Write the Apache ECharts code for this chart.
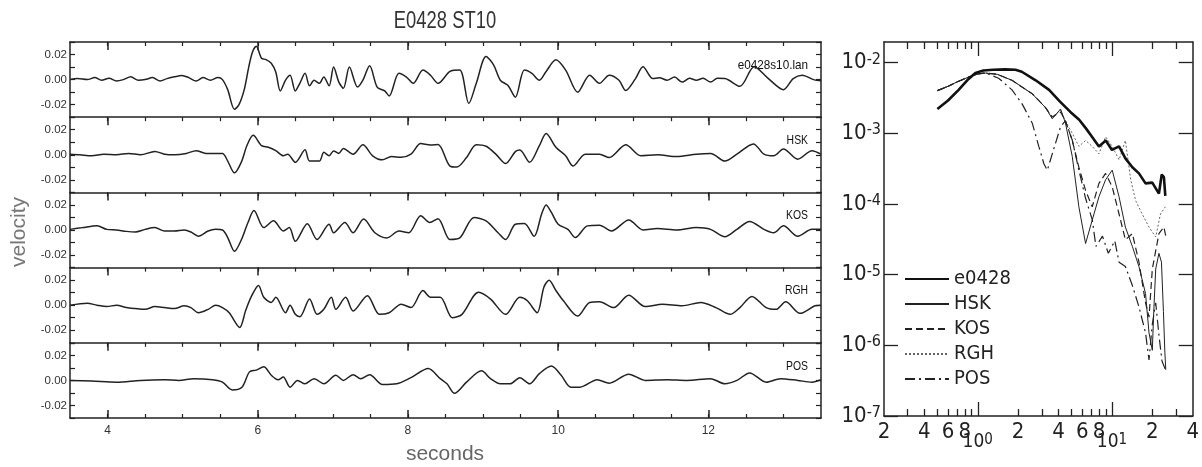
<!DOCTYPE html>
<html><head><meta charset="utf-8">
<script src="https://cdn.jsdelivr.net/npm/echarts@6/dist/echarts.min.js"></script>
<style>html,body{margin:0;padding:0;background:#fff}#c{width:1202px;height:467px}</style>
</head><body><div id="c"></div>
<script>
// ---------------- data: velocity traces [seconds, velocity] ----------------
const traceNames = ['e0428s10.lan', 'HSK', 'KOS', 'RGH', 'POS'];
const traceE0428 = [[3.50,0.0000],[3.60,0.0008],[3.73,0.0000],[3.83,0.0016],[3.92,-0.0005],[4.02,0.0011],[4.12,-0.0011],[4.21,0.0000],[4.31,0.0022],[4.41,-0.0005],[4.50,0.0000],[4.60,0.0016],[4.70,-0.0011],[4.79,0.0008],[4.89,0.0022],[4.99,0.0033],[5.08,0.0016],[5.18,-0.0011],[5.27,0.0016],[5.37,-0.0005],[5.47,0.0016],[5.53,0.0000],[5.60,-0.008],[5.69,-0.0237],[5.75,-0.020],[5.82,-0.008],[5.88,0.010],[5.93,0.022],[5.98,0.0267],[6.05,0.017],[6.11,0.016],[6.18,0.013],[6.24,0.006],[6.30,-0.009],[6.37,-0.0005],[6.43,0.0035],[6.50,-0.009],[6.56,-0.003],[6.63,0.005],[6.69,-0.005],[6.75,-0.0005],[6.82,-0.003],[6.88,0.002],[6.95,-0.005],[7.01,0.010],[7.08,-0.002],[7.14,-0.007],[7.22,0.010],[7.33,-0.006],[7.40,-0.0005],[7.49,0.011],[7.59,-0.006],[7.69,-0.009],[7.75,-0.013],[7.88,0.005],[7.98,0.002],[8.07,-0.003],[8.20,0.0076],[8.30,0.0035],[8.40,-0.003],[8.56,0.0065],[8.69,0.0076],[8.81,-0.019],[8.91,-0.003],[9.04,0.0185],[9.14,0.0117],[9.23,-0.0005],[9.33,-0.0046],[9.43,-0.014],[9.55,0.0076],[9.65,0.005],[9.75,-0.0005],[9.84,0.0065],[9.97,0.0158],[10.10,0.0076],[10.26,-0.010],[10.42,0.0035],[10.55,-0.003],[10.68,0.0035],[10.81,-0.0005],[10.90,-0.0087],[11.03,0.0008],[11.13,0.0103],[11.26,0.0008],[11.35,0.0015],[11.45,-0.0005],[11.55,0.002],[11.65,-0.002],[11.75,0.001],[11.84,-0.0005],[11.93,0.001],[12.03,-0.002],[12.12,0.001],[12.22,0.0008],[12.42,-0.0054],[12.61,0.0103],[12.80,0.0008],[13.00,-0.008],[13.13,0.0008],[13.25,0.0035],[13.40,0.000],[13.50,-0.001]];
const traceHSK = [[3.50,0.0005],[3.63,0.0000],[3.79,-0.0008],[3.95,0.0005],[4.12,0.0000],[4.28,0.0011],[4.44,0.0000],[4.63,0.0027],[4.76,0.0005],[4.89,0.0000],[5.05,0.0011],[5.18,0.0033],[5.31,0.0011],[5.40,0.0011],[5.53,0.0011],[5.60,-0.005],[5.69,-0.0144],[5.78,-0.006],[5.86,0.008],[5.94,0.0155],[6.05,0.0073],[6.14,0.006],[6.24,0.0033],[6.34,-0.0008],[6.40,0.0005],[6.50,-0.006],[6.63,0.004],[6.69,-0.005],[6.82,-0.005],[6.88,0.002],[6.95,-0.0008],[7.01,0.003],[7.08,0.0011],[7.14,0.005],[7.27,0.0005],[7.40,0.008],[7.53,-0.0008],[7.66,-0.004],[7.78,-0.0014],[7.91,-0.002],[8.04,0.0005],[8.17,0.009],[8.30,0.0079],[8.40,0.0082],[8.56,-0.009],[8.65,-0.0098],[8.78,-0.0022],[8.91,0.008],[9.04,0.0068],[9.17,0.0005],[9.30,-0.007],[9.43,0.0025],[9.49,0.0038],[9.62,-0.006],[9.75,0.0073],[9.84,0.0169],[9.97,0.006],[10.10,-0.0008],[10.20,-0.009],[10.36,0.0005],[10.55,0.0005],[10.68,-0.0022],[10.90,0.008],[11.10,-0.0008],[11.32,0.000],[11.58,-0.0014],[11.84,0.0005],[12.03,0.0011],[12.22,-0.005],[12.38,0.0005],[12.60,0.0087],[12.74,0.0005],[12.87,-0.0008],[13.00,0.0046],[13.19,-0.0035],[13.38,0.0033],[13.50,0.0005]];
const traceKOS = [[3.50,0.0005],[3.67,0.0019],[3.86,0.0033],[3.99,0.0005],[4.12,0.0000],[4.25,-0.0011],[4.37,-0.0016],[4.50,0.0005],[4.63,0.0019],[4.76,-0.0008],[4.89,-0.0008],[5.02,0.0000],[5.11,-0.0016],[5.21,-0.0049],[5.34,-0.0008],[5.44,0.0005],[5.53,0.0000],[5.60,-0.006],[5.69,-0.017],[5.78,-0.008],[5.87,0.006],[5.95,0.0155],[6.08,0.0019],[6.21,0.0073],[6.34,-0.0008],[6.42,0.0019],[6.50,-0.009],[6.66,0.005],[6.79,-0.0076],[6.95,0.0046],[7.01,-0.0022],[7.16,0.006],[7.27,-0.0022],[7.41,0.0087],[7.56,-0.0022],[7.72,-0.0063],[7.88,-0.0008],[8.01,-0.0022],[8.17,0.0114],[8.29,0.006],[8.40,0.009],[8.56,-0.0076],[8.69,-0.0063],[8.88,0.010],[9.04,0.0073],[9.20,-0.0022],[9.30,-0.0076],[9.43,0.0046],[9.55,0.0052],[9.68,-0.005],[9.78,0.0128],[9.84,0.020],[9.91,0.014],[10.00,0.0046],[10.13,0.0005],[10.23,-0.006],[10.39,0.0033],[10.55,0.0038],[10.71,-0.0008],[10.94,0.008],[11.13,0.000],[11.32,0.0011],[11.58,0.000],[11.84,0.0019],[12.03,0.0005],[12.22,-0.0054],[12.38,0.0005],[12.55,0.0068],[12.74,0.0005],[12.87,-0.0022],[13.00,0.0033],[13.19,-0.005],[13.38,0.0005],[13.50,0.0005]];
const traceRGH = [[3.50,0.0000],[3.73,0.0016],[3.86,0.0000],[3.99,-0.0011],[4.12,0.0000],[4.25,-0.0019],[4.37,-0.0027],[4.50,-0.0033],[4.63,-0.0011],[4.76,-0.0019],[4.89,-0.0027],[5.02,-0.0005],[5.11,-0.0019],[5.21,-0.006],[5.34,-0.0033],[5.44,0.0000],[5.53,-0.0019],[5.62,-0.006],[5.76,-0.0177],[5.84,-0.004],[5.92,0.0076],[6.01,0.0158],[6.08,0.0063],[6.18,0.0022],[6.24,0.0063],[6.37,-0.006],[6.43,0.000],[6.50,-0.0073],[6.56,-0.0092],[6.69,0.005],[6.79,-0.0073],[6.88,-0.0033],[6.98,0.0063],[7.04,-0.0033],[7.17,0.0063],[7.27,-0.0046],[7.46,0.0076],[7.62,-0.0073],[7.75,-0.006],[7.91,0.0008],[8.04,-0.0019],[8.20,0.0117],[8.30,0.0063],[8.43,0.0063],[8.59,-0.010],[8.72,-0.0073],[8.94,0.0103],[9.10,0.0049],[9.30,-0.0073],[9.49,0.0063],[9.59,0.0035],[9.72,-0.006],[9.81,0.0144],[9.88,0.0199],[9.97,0.0117],[10.07,0.0035],[10.26,-0.0087],[10.42,0.0022],[10.55,0.0027],[10.74,-0.0019],[10.94,0.008],[11.16,-0.0011],[11.39,0.0008],[11.65,-0.0005],[11.90,0.0022],[12.10,-0.0019],[12.29,-0.0073],[12.42,-0.0019],[12.58,0.007],[12.77,-0.0019],[12.90,-0.0033],[13.03,0.0027],[13.22,-0.0065],[13.42,-0.0005],[13.50,0.0000]];
const tracePOS = [[3.50,0.0000],[3.79,-0.0005],[4.12,-0.0014],[4.44,0.0000],[4.76,0.0005],[4.95,0.0000],[5.15,0.0014],[5.40,0.0005],[5.53,-0.0014],[5.66,-0.0076],[5.79,-0.0054],[5.89,0.0068],[5.98,0.0082],[6.08,0.0109],[6.18,0.0041],[6.27,0.0005],[6.34,0.0027],[6.43,-0.0054],[6.53,0.000],[6.63,-0.0027],[6.75,0.0014],[6.88,-0.0027],[7.04,0.0041],[7.14,0.000],[7.27,0.0046],[7.37,0.0014],[7.49,0.0046],[7.66,-0.0033],[7.85,-0.0027],[8.04,0.0022],[8.27,0.0095],[8.43,0.0014],[8.52,-0.0027],[8.62,-0.0103],[8.78,-0.0014],[8.98,0.0076],[9.10,0.0014],[9.23,-0.0027],[9.36,-0.0027],[9.49,0.0022],[9.62,-0.0027],[9.75,0.0054],[9.91,0.0114],[10.04,0.0041],[10.17,-0.0054],[10.29,-0.0054],[10.52,0.0005],[10.68,-0.0022],[10.94,0.005],[11.16,0.000],[11.45,0.0005],[11.71,0.000],[12.03,0.0014],[12.22,-0.0027],[12.38,0.000],[12.55,0.006],[12.77,-0.0014],[12.96,0.0014],[13.19,0.000],[13.38,-0.0014],[13.50,0.0005]];

// ---------------- data: spectra [frequency, amplitude] ----------------
const specNames = ['e0428', 'HSK', 'KOS', 'RGH', 'POS'];
const specE0428 = [[0.5,2.2e-3],[0.6,2.9e-3],[0.72,4.1e-3],[0.85,5.8e-3],[0.96,7.1e-3],[1.1,7.7e-3],[1.3,7.9e-3],[1.6,8.0e-3],[1.91,7.9e-3],[2.13,7.4e-3],[2.7,5.6e-3],[3.4,4.1e-3],[4.1,2.8e-3],[4.9,2.0e-3],[5.7,1.55e-3],[6.4,1.17e-3],[7.1,8.9e-4],[8.0,6.5e-4],[9.0,7.9e-4],[10.0,5.8e-4],[11.3,6.5e-4],[12.6,4.4e-4],[14.2,3.3e-4],[15.9,2.7e-4],[17.8,1.95e-4],[20,2.0e-4],[22.4,1.4e-4],[23.5,2.6e-4],[24.4,2.4e-4],[25,1.3e-4]];
const specHSK = [[0.5,4.0e-3],[0.6,4.6e-3],[0.7,5.3e-3],[0.85,6.2e-3],[1.0,6.9e-3],[1.14,7.1e-3],[1.4,6.8e-3],[1.8,5.6e-3],[2.55,3.6e-3],[3.2,2.3e-3],[3.59,1.6e-3],[4.14,2.2e-3],[4.5,1.4e-3],[5.06,4.7e-4],[5.67,9.1e-5],[6.36,2.75e-5],[7.13,5.9e-5],[8.0,1.26e-4],[8.97,2.2e-4],[10.05,3.0e-4],[11.3,1.26e-4],[12.6,4.7e-5],[14.2,2.5e-5],[15.9,1.3e-5],[17.8,5.4e-6],[18.9,1.5e-6],[20,8.5e-7],[20.5,3e-6],[21.2,1.2e-5],[22.4,2.0e-5],[23.4,1.5e-5],[24.2,3e-6],[24.8,8e-7],[25.2,4.5e-7]];
const specKOS = [[0.5,4.0e-3],[0.6,4.6e-3],[0.7,5.3e-3],[0.85,6.2e-3],[1.0,6.9e-3],[1.14,7.1e-3],[1.4,6.8e-3],[1.8,5.6e-3],[2.55,3.6e-3],[3.2,2.3e-3],[3.59,1.7e-3],[4.14,2.0e-3],[4.5,1.5e-3],[5.06,7.9e-4],[5.67,3.3e-4],[6.36,1.55e-4],[7.13,9.1e-5],[8.0,1.95e-4],[8.97,2.7e-4],[10.05,1.74e-4],[11.3,7.2e-5],[12.6,3.1e-5],[14.2,3.8e-5],[15.9,1.5e-5],[17.8,4e-6],[18.9,2.5e-6],[20,1.2e-5],[22.4,3.8e-5],[24.4,4.7e-5],[25.2,3.5e-5]];
const specRGH = [[0.5,4.0e-3],[0.6,4.6e-3],[0.7,5.3e-3],[0.85,6.2e-3],[1.0,6.9e-3],[1.14,7.1e-3],[1.4,6.8e-3],[1.8,5.6e-3],[2.55,3.6e-3],[3.2,2.3e-3],[3.59,1.7e-3],[4.14,2.1e-3],[4.5,1.48e-3],[5.06,1.0e-3],[5.67,6.5e-4],[6.36,7.9e-4],[7.13,6.5e-4],[8.0,5.1e-4],[8.97,8.9e-4],[10.05,6.5e-4],[11.3,4.2e-4],[12.6,7.9e-4],[13.8,2.2e-4],[15.0,1.12e-4],[16.8,7.2e-5],[18.9,4.7e-5],[21.2,3.4e-5],[23,7.2e-5],[25,9.1e-5]];
const specPOS = [[0.5,4.0e-3],[0.6,4.6e-3],[0.7,5.3e-3],[0.85,6.2e-3],[1.0,6.9e-3],[1.14,7.1e-3],[1.43,6.0e-3],[1.8,4.1e-3],[2.14,2.6e-3],[2.55,1.38e-3],[2.85,6.5e-4],[3.11,3.7e-4],[3.3,3.0e-4],[3.59,5.1e-4],[4.14,1.23e-3],[4.5,1.5e-3],[5.06,8.0e-4],[5.67,3.0e-4],[6.36,1.2e-4],[7.13,6.0e-5],[7.6,2.5e-5],[8.5,3.5e-5],[9.4,2.0e-5],[10.5,3.0e-5],[11.3,1.5e-5],[12.6,1.3e-5],[14.2,7e-6],[15.9,3.5e-6],[17.8,1.5e-6],[18.9,6.2e-7],[20,2e-6],[21.2,4e-6],[22.4,1.4e-6],[23.6,6e-7],[25.2,4.4e-7]];

// ---------------- ticks / labels ----------------
const timeMajorTicks = [4, 6, 8, 10, 12];
const timeMinorTicks = [4, 4.5, 5, 5.5, 6, 6.5, 7, 7.5, 8, 8.5, 9, 9.5, 10, 10.5, 11, 11.5, 12, 12.5, 13];
const timeLabels = [4, 6, 8, 10, 12];
const velTicks = [-0.03, -0.02, -0.01, 0, 0.01, 0.02, 0.03];
const velLabels = [-0.02, 0, 0.02];
const freqMinorTicks = [0.3, 0.4, 0.5, 0.6, 0.7, 0.8, 0.9, 2, 3, 4, 5, 6, 7, 8, 9, 20, 30];
const freqMajorTicks = [1, 10];
const freqDigitLabels = [0.2, 0.4, 0.6, 0.8, 2, 4, 6, 8, 20, 40];
const ampTicks = [1e-7, 1e-6, 1e-5, 1e-4, 1e-3, 1e-2];

// ---------------- build ----------------
const FN = "'DejaVu Sans Condensed','Liberation Sans',sans-serif";
const FR = "'Liberation Sans',Arial,sans-serif";
const INK = '#222';
const traces = [traceE0428, traceHSK, traceKOS, traceRGH, tracePOS];
const specs = [specE0428, specHSK, specKOS, specRGH, specPOS];
const specStyles = [
  {width: 2.6, type: 'solid', color: '#111'},
  {width: 1, type: 'solid', color: '#222'},
  {width: 1.2, type: [7, 4], color: '#222'},
  {width: 1, type: [2, 2], color: '#666'},
  {width: 1.2, type: [10, 4, 2, 4], color: '#222'}
];
const lg = v => Math.log10(v);
const grids = [], xAxes = [], yAxes = [], series = [];
const axLine = {show: true, onZero: false, lineStyle: {color: INK, width: 1.5}};
const noLine = {show: false, onZero: false};
const P_TOP = 42, P_H = 75.2, P_L = 70, P_W = 751;

traces.forEach((data, i) => {
  grids.push({left: P_L, top: P_TOP + P_H * i, width: P_W, height: P_H});
  const xi = xAxes.length;
  xAxes.push({type: 'value', gridIndex: i, position: 'top', min: 3.5, max: 13.5, axisLine: axLine,
    axisTick: {show: true, inside: true, length: 4, customValues: timeMinorTicks, lineStyle: {color: INK, width: 1.2}},
    axisLabel: {show: false}, splitLine: {show: false}});
  xAxes.push({type: 'value', gridIndex: i, position: 'top', min: 3.5, max: 13.5, axisLine: noLine,
    axisTick: {show: true, inside: true, length: 8, customValues: timeMajorTicks, lineStyle: {color: INK, width: 1.5}},
    axisLabel: {show: false}, splitLine: {show: false}});
  if (i === traces.length - 1) {
    xAxes.push({type: 'value', gridIndex: i, position: 'bottom', min: 3.5, max: 13.5, axisLine: axLine,
      axisTick: {show: true, inside: true, length: 4, customValues: timeMinorTicks, lineStyle: {color: INK, width: 1.2}},
      axisLabel: {show: true, customValues: timeLabels, fontSize: 12, fontFamily: FR, color: '#333', margin: 7},
      splitLine: {show: false}});
    xAxes.push({type: 'value', gridIndex: i, position: 'bottom', min: 3.5, max: 13.5, axisLine: noLine,
      axisTick: {show: true, inside: true, length: 8, customValues: timeMajorTicks, lineStyle: {color: INK, width: 1.5}},
      axisLabel: {show: false}, splitLine: {show: false}});
  }
  const yi = yAxes.length;
  yAxes.push({type: 'value', gridIndex: i, position: 'left', min: -0.03, max: 0.03, axisLine: axLine,
    axisTick: {show: true, inside: true, length: 5, customValues: velTicks, lineStyle: {color: INK, width: 1.2}},
    axisLabel: {show: true, customValues: velLabels, formatter: v => v.toFixed(2), fontSize: 11.5, fontFamily: FR, color: '#333', margin: 3},
    splitLine: {show: false}});
  yAxes.push({type: 'value', gridIndex: i, position: 'right', min: -0.03, max: 0.03, axisLine: axLine,
    axisTick: {show: true, inside: true, length: 5, customValues: velTicks, lineStyle: {color: INK, width: 1.2}},
    axisLabel: {show: false}, splitLine: {show: false}});
  series.push({type: 'line', name: traceNames[i] + ' trace', xAxisIndex: xi, yAxisIndex: yi, data: data,
    symbol: 'none', showSymbol: false, smooth: 0.3, silent: true,
    lineStyle: {color: INK, width: 1.5}});
});

// spectrum grid
const sg = grids.length;
grids.push({left: 884, top: 42, width: 312, height: 374});
const FMIN = lg(0.2), FMAX = lg(40), AMIN = -7, AMAX = -1.71;
const sx = xAxes.length;
xAxes.push({type: 'value', gridIndex: sg, position: 'bottom', min: FMIN, max: FMAX, axisLine: axLine,
  axisTick: {show: true, inside: true, length: 7, customValues: freqMinorTicks.map(lg), lineStyle: {color: INK, width: 1.3}},
  axisLabel: {show: true, customValues: freqDigitLabels.map(lg), margin: 5, fontSize: 22, fontFamily: FN, color: INK,
    formatter: v => { const f = Math.pow(10, v); return String(Math.round(f / Math.pow(10, Math.floor(v + 1e-9)))); }},
  splitLine: {show: false}});
xAxes.push({type: 'value', gridIndex: sg, position: 'bottom', min: FMIN, max: FMAX, axisLine: noLine,
  axisTick: {show: true, inside: true, length: 14, customValues: freqMajorTicks.map(lg), lineStyle: {color: INK, width: 1.3}},
  axisLabel: {show: true, customValues: freqMajorTicks.map(lg), margin: 17,
    formatter: v => '{b|10}{s|' + Math.round(v) + '}',
    rich: {b: {fontSize: 19, fontFamily: FN, color: INK, lineHeight: 19, verticalAlign: 'bottom'},
           s: {fontSize: 15, fontFamily: FN, color: INK, lineHeight: 15, verticalAlign: 'top', padding: [0, 0, 8, 0]}}},
  splitLine: {show: false}});
xAxes.push({type: 'value', gridIndex: sg, position: 'top', min: FMIN, max: FMAX, axisLine: axLine,
  axisTick: {show: true, inside: true, length: 7, customValues: freqMinorTicks.map(lg), lineStyle: {color: INK, width: 1.3}},
  axisLabel: {show: false}, splitLine: {show: false}});
xAxes.push({type: 'value', gridIndex: sg, position: 'top', min: FMIN, max: FMAX, axisLine: noLine,
  axisTick: {show: true, inside: true, length: 14, customValues: freqMajorTicks.map(lg), lineStyle: {color: INK, width: 1.3}},
  axisLabel: {show: false}, splitLine: {show: false}});
const sy = yAxes.length;
yAxes.push({type: 'value', gridIndex: sg, position: 'left', min: AMIN, max: AMAX, axisLine: axLine,
  axisTick: {show: true, inside: true, length: 14, customValues: ampTicks.map(lg), lineStyle: {color: INK, width: 1.3}},
  axisLabel: {show: true, customValues: ampTicks.map(lg), margin: 3,
    formatter: v => '{b|10}{s|' + Math.round(v) + '}',
    rich: {b: {fontSize: 22, fontFamily: FN, color: INK, lineHeight: 22, verticalAlign: 'bottom'},
           s: {fontSize: 16, fontFamily: FN, color: INK, lineHeight: 16, verticalAlign: 'top', padding: [0, 0, 10, 0]}}},
  splitLine: {show: false}});
yAxes.push({type: 'value', gridIndex: sg, position: 'right', min: AMIN, max: AMAX, axisLine: axLine,
  axisTick: {show: true, inside: true, length: 14, customValues: ampTicks.map(lg), lineStyle: {color: INK, width: 1.3}},
  axisLabel: {show: false}, splitLine: {show: false}});

specs.forEach((data, i) => {
  series.push({type: 'line', name: specNames[i], xAxisIndex: sx, yAxisIndex: sy,
    data: data.map(([f, a]) => [lg(f), lg(a)]), symbol: 'none', showSymbol: false, silent: true,
    lineStyle: specStyles[i], itemStyle: {color: specStyles[i].color}, z: 5 - i});
});

const labelY = [65, 140, 215, 290, 366];
const graphic = [
  {type: 'text', x: 445, y: 22, scaleX: 0.8, style: {text: 'E0428 ST10', font: "23px 'Liberation Sans', sans-serif", fill: '#333', align: 'center', verticalAlign: 'middle'}},
  {type: 'text', x: 19, y: 232, rotation: Math.PI / 2, style: {text: 'velocity', font: "21px 'Liberation Sans', sans-serif", fill: '#777', align: 'center', verticalAlign: 'middle'}},
  {type: 'text', x: 445, y: 454, style: {text: 'seconds', font: "21px 'Liberation Sans', sans-serif", fill: '#666', align: 'center', verticalAlign: 'middle'}}
];
traceNames.forEach((n, i) => {
  graphic.push({type: 'text', x: 808, y: labelY[i], scaleX: i === 0 ? 0.9 : 0.8,
    style: {text: n, font: "13px 'Liberation Sans', sans-serif", fill: '#111', align: 'right', verticalAlign: 'middle'}});
});

const chart = echarts.init(document.getElementById('c'), null, {renderer: 'canvas'});
chart.setOption({
  animation: false,
  backgroundColor: '#fff',
  grid: grids, xAxis: xAxes, yAxis: yAxes, series: series, graphic: graphic,
  legend: {data: specNames, orient: 'vertical', left: 899, top: 263, itemWidth: 44, itemHeight: 14, itemGap: 3,
    selectedMode: false, itemStyle: {opacity: 0},
    textStyle: {fontFamily: FN, fontSize: 20, color: INK, lineHeight: 22}}
});
</script></body></html>
